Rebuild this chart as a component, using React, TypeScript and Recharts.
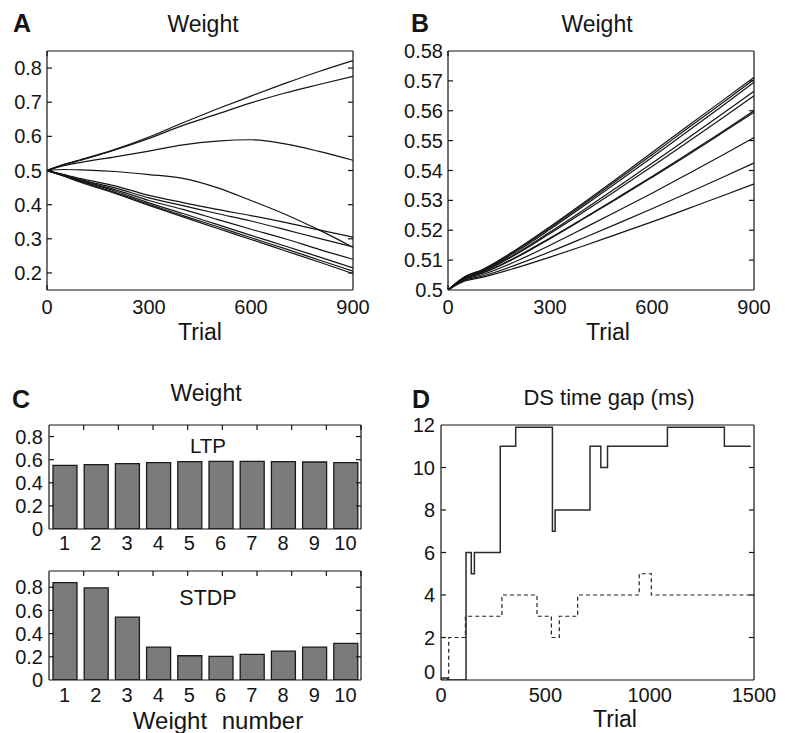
import React from 'react';
import { ComposedChart, Line, Bar, XAxis, YAxis } from 'recharts';

const FONT = '"Liberation Sans", Arial, Helvetica, sans-serif';
const INK = '#141414';

// A / B: weight traces, sampled along the trial axis
const TRIALS = [0, 50, 100, 200, 300, 400, 500, 600, 700, 800, 900];

const A_W1 = [0.5, 0.518, 0.532, 0.562, 0.598, 0.64, 0.68, 0.718, 0.755, 0.79, 0.822];
const A_W2 = [0.5, 0.517, 0.53, 0.56, 0.594, 0.632, 0.665, 0.698, 0.727, 0.752, 0.776];
const A_W3 = [0.5, 0.514, 0.524, 0.54, 0.557, 0.575, 0.586, 0.59, 0.578, 0.556, 0.53];
const A_W4 = [0.5, 0.503, 0.502, 0.497, 0.488, 0.477, 0.45, 0.412, 0.372, 0.326, 0.275];
const A_W5 = [0.5, 0.488, 0.476, 0.455, 0.427, 0.406, 0.386, 0.368, 0.348, 0.326, 0.305];
const A_W6 = [0.5, 0.487, 0.473, 0.449, 0.42, 0.397, 0.374, 0.352, 0.327, 0.301, 0.276];
const A_W7 = [0.5, 0.486, 0.471, 0.444, 0.412, 0.386, 0.357, 0.328, 0.3, 0.269, 0.24];
const A_W8 = [0.5, 0.485, 0.469, 0.44, 0.405, 0.374, 0.342, 0.31, 0.279, 0.247, 0.215];
const A_W9 = [0.5, 0.484, 0.467, 0.436, 0.401, 0.368, 0.336, 0.303, 0.271, 0.238, 0.205];
const A_W10 = [0.5, 0.483, 0.465, 0.433, 0.398, 0.364, 0.331, 0.298, 0.265, 0.232, 0.198];
const A_LINES = [A_W1, A_W2, A_W3, A_W4, A_W5, A_W6, A_W7, A_W8, A_W9, A_W10];

const B_W1 = [0.5, 0.5045, 0.5068, 0.5135, 0.5212, 0.5293, 0.5376, 0.546, 0.5545, 0.5628, 0.5712];
const B_W2 = [0.5, 0.5044, 0.5066, 0.5132, 0.5208, 0.5288, 0.537, 0.5453, 0.5537, 0.562, 0.5705];
const B_W3 = [0.5, 0.5043, 0.5064, 0.5128, 0.5203, 0.5282, 0.5362, 0.5444, 0.5527, 0.561, 0.5695];
const B_W4 = [0.5, 0.5042, 0.5062, 0.5122, 0.5194, 0.5269, 0.5346, 0.5424, 0.5504, 0.5584, 0.5665];
const B_W5 = [0.5, 0.5041, 0.506, 0.5119, 0.5189, 0.5262, 0.5337, 0.5413, 0.5491, 0.557, 0.565];
const B_W6 = [0.5, 0.5039, 0.5057, 0.511, 0.5174, 0.5241, 0.531, 0.538, 0.5452, 0.5525, 0.56];
const B_W7 = [0.5, 0.5038, 0.5056, 0.5108, 0.5172, 0.5239, 0.5307, 0.5377, 0.5448, 0.5521, 0.5595];
const B_W8 = [0.5, 0.5036, 0.5051, 0.5096, 0.515, 0.5207, 0.5265, 0.5324, 0.5385, 0.5447, 0.551];
const B_W9 = [0.5, 0.5033, 0.5046, 0.5084, 0.5128, 0.5175, 0.5223, 0.5272, 0.5322, 0.5373, 0.5425];
const B_W10 = [0.5, 0.503, 0.5042, 0.5074, 0.511, 0.5148, 0.5188, 0.5228, 0.527, 0.5312, 0.5355];
const B_LINES = [B_W1, B_W2, B_W3, B_W4, B_W5, B_W6, B_W7, B_W8, B_W9, B_W10];

const TRIAL_TICKS = [0, 300, 600, 900];
const TRIAL_MINOR = [0, 100, 200, 300, 400, 500, 600, 700, 800, 900];
const A_Y_TICKS = [0.2, 0.3, 0.4, 0.5, 0.6, 0.7, 0.8];
const B_Y_TICKS = [0.5, 0.51, 0.52, 0.53, 0.54, 0.55, 0.56, 0.57, 0.58];
const B_Y_MINOR = [0.51, 0.52, 0.53, 0.54, 0.55, 0.56, 0.57];

// C: final weights
const WEIGHT_NUM = [1, 2, 3, 4, 5, 6, 7, 8, 9, 10];
const LTP = [0.551, 0.557, 0.566, 0.574, 0.583, 0.586, 0.586, 0.583, 0.58, 0.574];
const STDP = [0.84, 0.794, 0.542, 0.284, 0.209, 0.204, 0.221, 0.249, 0.284, 0.316];
const C_Y_TICKS = [0, 0.2, 0.4, 0.6, 0.8];
const C_Y_MINOR = [0.2, 0.4, 0.6, 0.8];

// D: DS time gap steps
const SOLID_T = [0, 30, 120, 145, 160, 284, 358, 534, 547, 714, 766, 798, 1085, 1358, 1485];
const SOLID_GAP = [0.1, 0, 6, 5, 6, 11, 11.9, 7, 8, 11, 10, 11, 11.9, 11, 11];
const DASH_T = [0, 37, 117, 292, 460, 529, 567, 655, 950, 1008, 1500];
const DASH_GAP = [0, 2, 3, 4, 3, 2, 3, 4, 5, 4, 4];
const D_X_TICKS = [0, 500, 1000, 1500];
const D_X_MINOR = [500, 1000];
const D_Y_TICKS = [0, 2, 4, 6, 8, 10, 12];
const D_Y_MINOR = [2, 4, 6, 8, 10];

const aRows = TRIALS.map((t, i) => {
  const row: Record<string, number> = { t };
  A_LINES.forEach((s, k) => (row['w' + (k + 1)] = s[i]));
  return row;
});
const bRows = TRIALS.map((t, i) => {
  const row: Record<string, number> = { t };
  B_LINES.forEach((s, k) => (row['w' + (k + 1)] = s[i]));
  return row;
});
const ltpRows = WEIGHT_NUM.map((w, i) => ({ w, v: LTP[i] }));
const stdpRows = WEIGHT_NUM.map((w, i) => ({ w, v: STDP[i] }));
const solidRows = SOLID_T.map((t, i) => ({ t, g: SOLID_GAP[i] }));
const dashRows = DASH_T.map((t, i) => ({ t, g: DASH_GAP[i] }));

const tickFont = { fontSize: 20, fill: INK, fontFamily: FONT };
const edge = { stroke: INK, strokeWidth: 1.2 };
const NoLabel = () => <g />;

type FrameOpts = {
  xKey: string;
  xDomain: [number, number];
  xTicks: number[];
  xBottomMinor?: number[];
  xTopMinor?: number[];
  xHeight: number;
  xGap: number;
  yDomain: [number, number];
  yTicks: number[];
  yMinor: number[];
  yWidth: number;
  yGap: number;
  yTick?: any;
};

// box with inward ticks, matlab style: label axes + mirrored tick-only axes
function frame(o: FrameOpts) {
  const hasBottom = !!(o.xBottomMinor && o.xBottomMinor.length);
  const hasTop = !!(o.xTopMinor && o.xTopMinor.length);
  return [
    <XAxis
      key="xb"
      xAxisId="b"
      type="number"
      dataKey={o.xKey}
      domain={o.xDomain}
      ticks={o.xTicks}
      interval={0}
      height={o.xHeight}
      tickSize={0}
      tickMargin={o.xGap}
      tickLine={false}
      axisLine={edge}
      tick={tickFont}
      allowDataOverflow
    />,
    <XAxis
      key="xbm"
      xAxisId="bm"
      type="number"
      domain={o.xDomain}
      ticks={hasBottom ? o.xBottomMinor : o.xTicks}
      interval={0}
      mirror
      tick={NoLabel}
      tickSize={5}
      tickLine={hasBottom ? edge : false}
      axisLine={false}
      allowDataOverflow
    />,
    <XAxis
      key="xt"
      xAxisId="t"
      orientation="top"
      type="number"
      domain={o.xDomain}
      ticks={hasTop ? o.xTopMinor : o.xTicks}
      interval={0}
      mirror
      tick={NoLabel}
      tickSize={5}
      tickLine={hasTop ? edge : false}
      axisLine={edge}
      allowDataOverflow
    />,
    <YAxis
      key="yl"
      yAxisId="l"
      type="number"
      domain={o.yDomain}
      ticks={o.yTicks}
      interval={0}
      width={o.yWidth}
      tickSize={0}
      tickMargin={o.yGap}
      tickLine={false}
      axisLine={edge}
      tick={o.yTick || tickFont}
      allowDataOverflow
    />,
    <YAxis
      key="ylm"
      yAxisId="lm"
      type="number"
      domain={o.yDomain}
      ticks={o.yMinor}
      interval={0}
      mirror
      tick={NoLabel}
      tickSize={5}
      tickLine={edge}
      axisLine={false}
      allowDataOverflow
    />,
    <YAxis
      key="yr"
      yAxisId="r"
      orientation="right"
      type="number"
      domain={o.yDomain}
      ticks={o.yMinor}
      interval={0}
      width={10}
      mirror
      tick={NoLabel}
      tickSize={5}
      tickLine={edge}
      axisLine={edge}
      allowDataOverflow
    />,
  ];
}

// the 0 on D's y axis sits a little above its tick
const DYTick = (p: any) => (
  <text
    x={p.x}
    y={p.y + (p.payload.value === 0 ? -8 : 0)}
    dy="0.355em"
    textAnchor="end"
    fontSize={20}
    fill={INK}
    fontFamily={FONT}
  >
    {p.payload.value}
  </text>
);

const box = (left: number, top: number): React.CSSProperties => ({ position: 'absolute', left, top });

export default function App() {
  return (
    <div style={{ position: 'absolute', left: 0, top: 0, width: 785, height: 733, background: '#fff' }}>
      <div style={box(0, 0)}>
        <ComposedChart width={390} height={345} data={aRows} margin={{ top: 51, right: 37, bottom: 0, left: 0 }}>
          {frame({
            xKey: 't', xDomain: [0, 900], xTicks: TRIAL_TICKS, xBottomMinor: TRIAL_MINOR, xTopMinor: TRIAL_MINOR,
            xHeight: 55, xGap: 10, yDomain: [0.15, 0.85], yTicks: A_Y_TICKS, yMinor: A_Y_TICKS, yWidth: 47, yGap: 5,
          })}
          {A_LINES.map((_, k) => (
            <Line key={k} xAxisId="b" yAxisId="l" type="monotone" dataKey={'w' + (k + 1)} stroke={INK}
              strokeWidth={1.2} dot={false} isAnimationActive={false} />
          ))}
        </ComposedChart>
      </div>

      <div style={box(390, 0)}>
        <ComposedChart width={395} height={345} data={bRows} margin={{ top: 51, right: 31, bottom: 0, left: 0 }}>
          {frame({
            xKey: 't', xDomain: [0, 900], xTicks: TRIAL_TICKS, xBottomMinor: TRIAL_MINOR, xTopMinor: TRIAL_MINOR,
            xHeight: 55, xGap: 10, yDomain: [0.5, 0.58], yTicks: B_Y_TICKS, yMinor: B_Y_MINOR, yWidth: 58, yGap: 5,
          })}
          {B_LINES.map((_, k) => (
            <Line key={k} xAxisId="b" yAxisId="l" type="monotone" dataKey={'w' + (k + 1)} stroke={INK}
              strokeWidth={1.2} dot={false} isAnimationActive={false} />
          ))}
        </ComposedChart>
      </div>

      <div style={box(0, 400)}>
        <ComposedChart width={390} height={160} data={ltpRows} margin={{ top: 25, right: 29, bottom: 0, left: 0 }}>
          {frame({
            xKey: 'w', xDomain: [0.5, 10.5], xTicks: WEIGHT_NUM, xTopMinor: WEIGHT_NUM,
            xHeight: 31, xGap: 7, yDomain: [0, 0.9], yTicks: C_Y_TICKS, yMinor: C_Y_MINOR, yWidth: 49, yGap: 6,
          })}
          <Bar xAxisId="b" yAxisId="l" dataKey="v" barSize={24} fill="#7b7b7b" stroke="#1a1a1a" strokeWidth={1.3}
            isAnimationActive={false} />
        </ComposedChart>
      </div>

      <div style={box(0, 560)}>
        <ComposedChart width={390} height={173} data={stdpRows} margin={{ top: 11, right: 29, bottom: 0, left: 0 }}>
          {frame({
            xKey: 'w', xDomain: [0.5, 10.5], xTicks: WEIGHT_NUM, xTopMinor: WEIGHT_NUM,
            xHeight: 53, xGap: 8, yDomain: [0, 0.94], yTicks: C_Y_TICKS, yMinor: C_Y_MINOR, yWidth: 49, yGap: 6,
          })}
          <Bar xAxisId="b" yAxisId="l" dataKey="v" barSize={24} fill="#7b7b7b" stroke="#1a1a1a" strokeWidth={1.3}
            isAnimationActive={false} />
        </ComposedChart>
      </div>

      <div style={box(390, 400)}>
        <ComposedChart width={395} height={333} margin={{ top: 25, right: 31, bottom: 0, left: 0 }}>
          {frame({
            xKey: 't', xDomain: [0, 1500], xTicks: D_X_TICKS, xBottomMinor: D_X_MINOR,
            xHeight: 53, xGap: 8, yDomain: [0, 12], yTicks: D_Y_TICKS, yMinor: D_Y_MINOR, yWidth: 51, yGap: 6,
            yTick: DYTick,
          })}
          <Line xAxisId="b" yAxisId="l" data={dashRows} dataKey="g" type="stepAfter" stroke="#222"
            strokeWidth={1.2} strokeDasharray="4 3" dot={false} isAnimationActive={false} />
          <Line xAxisId="b" yAxisId="l" data={solidRows} dataKey="g" type="stepAfter" stroke="#2a2a2a"
            strokeWidth={1.5} dot={false} isAnimationActive={false} />
        </ComposedChart>
      </div>

      <svg width={785} height={733} style={{ position: 'absolute', left: 0, top: 0, pointerEvents: 'none' }}
        fontFamily={FONT} fill={INK}>
        <text x={13} y={32} fontSize={25} fontWeight="bold">A</text>
        <text x={203} y={32} fontSize={23} textAnchor="middle">Weight</text>
        <text x={200} y={340} fontSize={23} textAnchor="middle">Trial</text>

        <text x={411} y={32} fontSize={25} fontWeight="bold">B</text>
        <text x={597} y={32} fontSize={23} textAnchor="middle">Weight</text>
        <text x={608} y={340} fontSize={23} textAnchor="middle">Trial</text>

        <text x={12} y={408} fontSize={25} fontWeight="bold">C</text>
        <text x={206} y={401} fontSize={23} textAnchor="middle">Weight</text>
        <text x={208} y={453} fontSize={20.5} textAnchor="middle">LTP</text>
        <text x={208} y={605} fontSize={21.5} textAnchor="middle">STDP</text>
        <text x={218} y={729} fontSize={24} textAnchor="middle" wordSpacing={8}>Weight number</text>

        <text x={412} y={408} fontSize={25} fontWeight="bold">D</text>
        <text x={609} y={405} fontSize={22} textAnchor="middle">DS time gap (ms)</text>
        <text x={615} y={727} fontSize={23} textAnchor="middle">Trial</text>
      </svg>
    </div>
  );
}
